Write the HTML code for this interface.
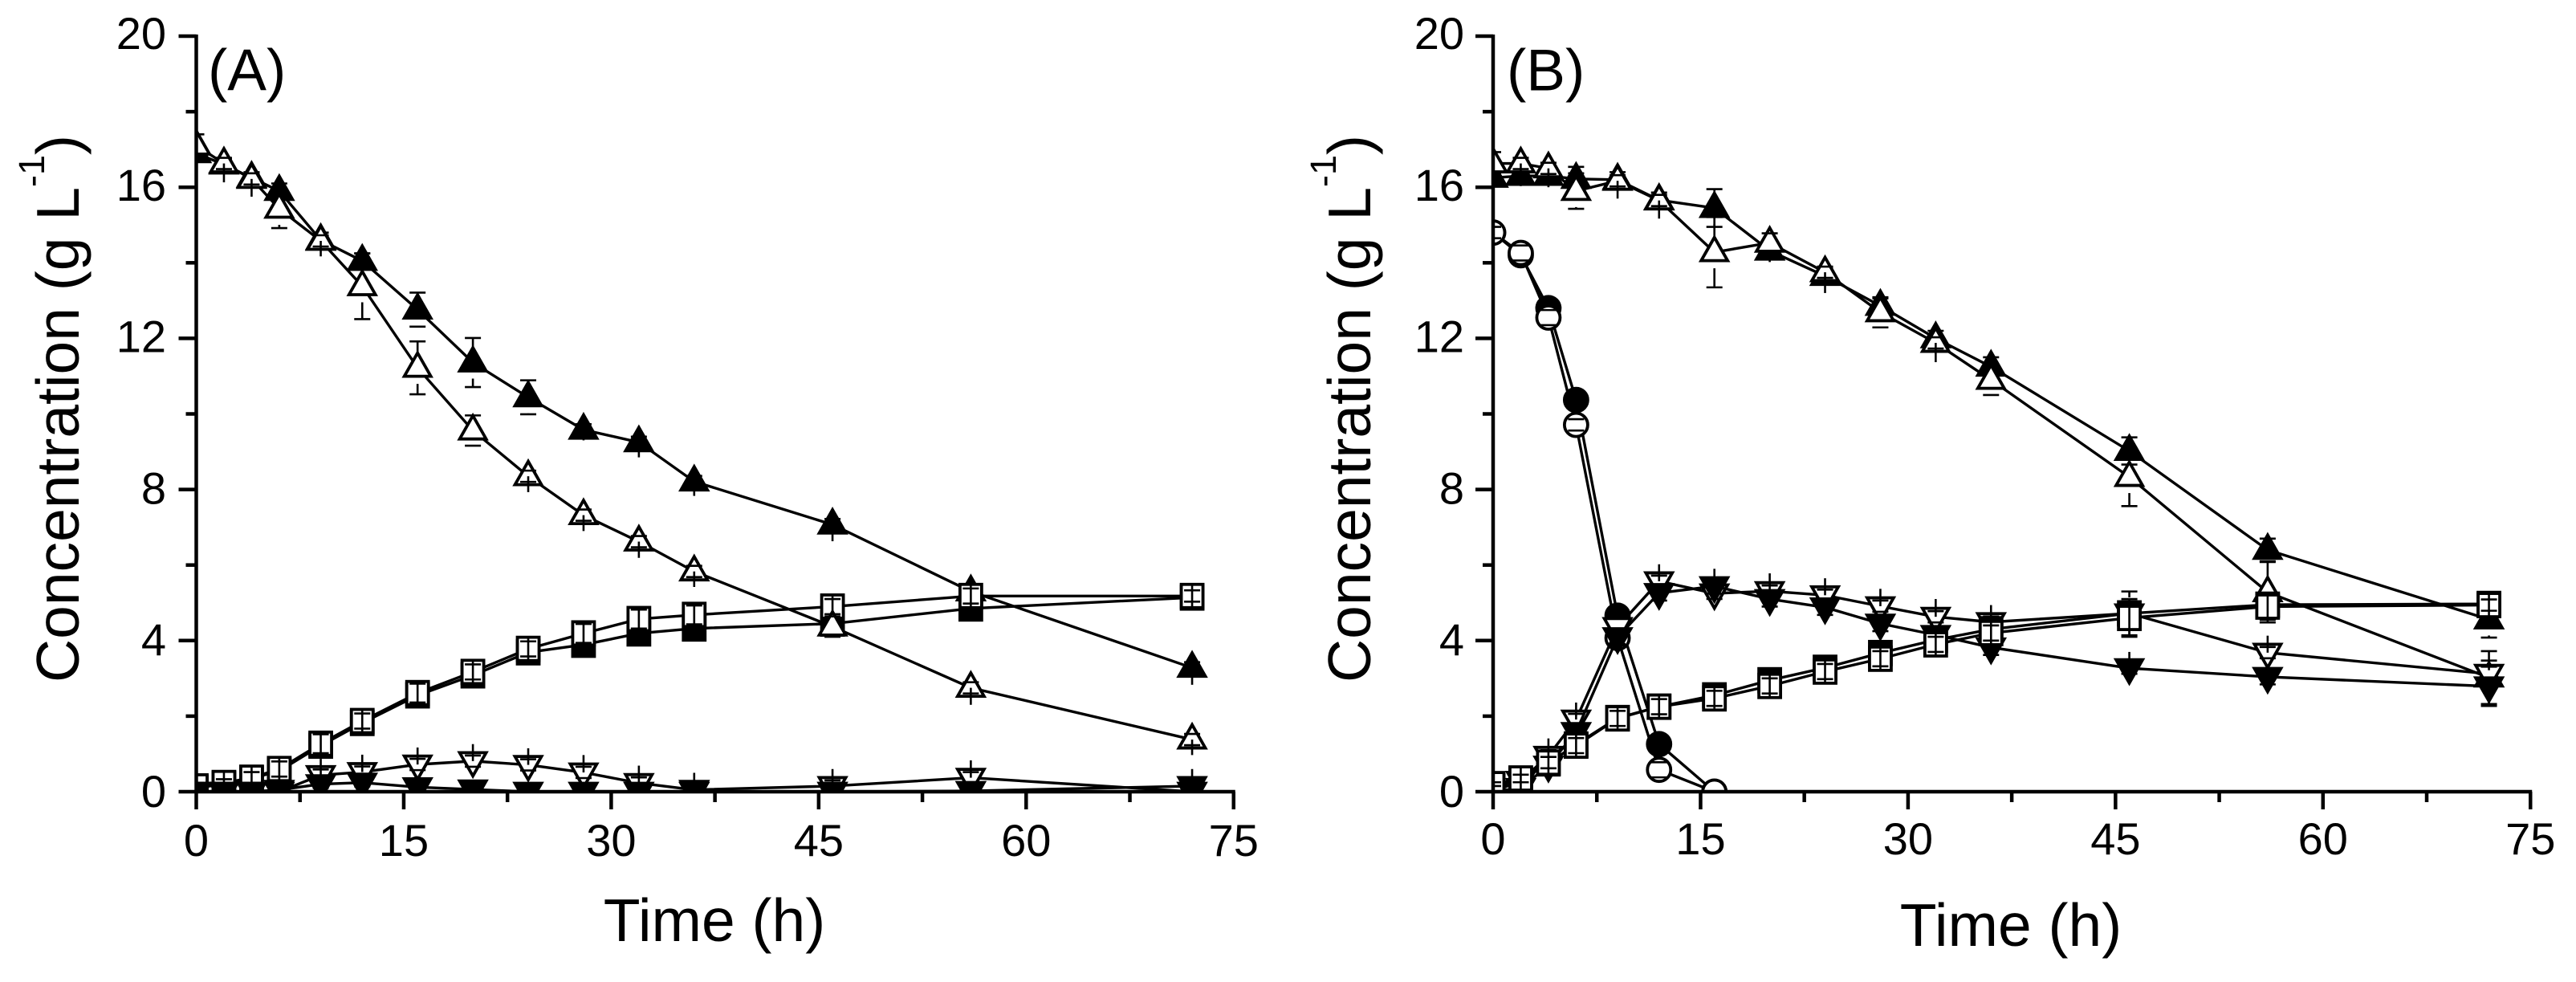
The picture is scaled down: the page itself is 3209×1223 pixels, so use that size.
<!DOCTYPE html>
<html lang="en">
<head>
<meta charset="utf-8">
<title>Concentration over time, panels A and B</title>
<style>
html,body{margin:0;padding:0;background:#fff;}
svg{display:block;font-family:"Liberation Sans",Arial,sans-serif;fill:#000;}
</style>
</head>
<body>
<svg id="chart" xmlns="http://www.w3.org/2000/svg" width="3209" height="1223" viewBox="0 0 3209 1223">
<rect width="3209" height="1223" fill="#fff"/>
<defs>
<clipPath id="clip-a"><rect x="244.5" y="30" width="1310" height="956"/></clipPath>
<clipPath id="clip-b"><rect x="1860" y="30" width="1310" height="956"/></clipPath>
</defs>
<g id="panel-a"></g>
<g id="panel-b"></g>
</svg>
<script>
const times = [0,2,4,6,9,12,16,20,24,28,32,36,46,56,72];
const xTickLabels = [0,15,30,45,60,75];
const xMinorTicks = [7.5,22.5,37.5,52.5,67.5];
const yTickLabels = [0,4,8,12,16,20];
const yMinorTicks = [2,6,10,14,18];

const aUpFilled   = [16.9,16.6,16.25,15.9,14.6,14.05,12.76,11.36,10.44,9.58,9.25,8.21,7.07,5.3,3.28];
const aUpFilledErr= [0.1,0.15,0.15,0.2,0.2,0.2,0.45,0.65,0.45,0.28,0.4,0.38,0.44,0.15,0.45];
const aUpFilledBare=[9,10,11,12,14];
const aUpOpen     = [17.1,16.63,16.22,15.43,14.58,13.38,11.22,9.56,8.35,7.32,6.62,5.83,4.37,2.75,1.38];
const aUpOpenErr  = [0.3,0.5,0.47,0.51,0.41,0.87,0.7,0.4,0.42,0.42,0.43,0.41,0.27,0.45,0.41];
const aUpOpenBare = [1,2,4,8,9,10,11,13,14];
const aSqFilled   = [0.1,0.2,0.35,0.55,1.22,1.82,2.55,3.08,3.69,3.89,4.19,4.32,4.45,4.85,5.14];
const aSqFilledErr= [0.05,0.1,0.1,0.15,0.2,0.15,0.2,0.15,0.15,0.15,0.15,0.15,0.15,0.15,0.1];
const aSqOpen     = [0.14,0.23,0.37,0.6,1.27,1.87,2.61,3.17,3.78,4.19,4.57,4.68,4.9,5.18,5.18];
const aSqOpenErr  = [0.05,0.1,0.15,0.2,0.25,0.2,0.25,0.2,0.2,0.25,0.25,0.25,0.2,0.2,0.15];
const aDownOpen   = [0,0,0,0,0.44,0.52,0.72,0.81,0.71,0.51,0.23,0.05,0.15,0.37,0];
const aDownOpenErr= [0,0,0,0.1,0.43,0.46,0.45,0.45,0.44,0.46,0.46,0.45,0.45,0.46,0.1];
const aDownOpenBare=[4,5,6,7,8,9,10,11,12,13];
const aDownFilled = [0,0,0,0.05,0.2,0.24,0.12,0.06,0,0,0,0,0,0.02,0.15];
const aDownFilledErr=[0,0,0,0,0.1,0.1,0.1,0.05,0,0,0,0,0,0.05,0.45];
const aDownFilledBare=[14];

const bCircFilled = [14.8,14.2,12.8,10.37,4.66,1.26,0];
const bCircFilledErr=[0.1,0.1,0.15,0.1,0.15,0.1,0];
const bCircOpen   = [14.8,14.26,12.55,9.71,4.07,0.58,0];
const bCircOpenErr= [0.15,0.2,0.2,0.15,0.2,0.2,0];
const bUpFilled   = [16.25,16.3,16.3,16.22,16.2,15.66,15.45,14.32,13.65,12.86,12,11.25,9.02,6.4,4.56];
const bUpFilledErr= [0.1,0.15,0.15,0.32,0.2,0.2,0.5,0.3,0.2,0.2,0.2,0.25,0.36,0.3,0.48];
const bUpFilledBare=[7];
const bUpOpen     = [16.63,16.63,16.5,15.9,16.17,15.65,14.28,14.53,13.75,12.69,11.88,10.9,8.33,5.28,3.02];
const bUpOpenErr  = [0.3,0.6,0.5,0.47,0.47,0.48,0.93,0.25,0.55,0.4,0.51,0.4,0.77,0.8,0.7];
const bUpOpenBare = [1,2,4,5,8,10];
const bSqFilled   = [0.15,0.3,0.75,1.25,1.95,2.25,2.55,2.95,3.28,3.67,4.02,4.3,4.72,4.95,4.97];
const bSqFilledErr= [0.05,0.1,0.1,0.15,0.15,0.15,0.15,0.15,0.15,0.15,0.15,0.15,0.15,0.15,0.1];
const bSqOpen     = [0.2,0.35,0.77,1.22,1.94,2.25,2.47,2.8,3.18,3.52,3.9,4.2,4.6,4.9,4.94];
const bSqOpenErr  = [0.05,0.1,0.15,0.2,0.2,0.2,0.2,0.2,0.2,0.2,0.2,0.2,0.5,0.35,0.15];
const bDownOpen   = [0,0.29,0.95,1.91,4.36,5.57,5.25,5.31,5.2,4.91,4.63,4.49,4.72,3.68,3.12];
const bDownOpenErr= [0,0.2,0.46,0.45,0.45,0.45,0.65,0.47,0.45,0.46,0.47,0.45,0.58,0.45,0.35];
const bDownOpenBare=[2,3,5,6,7,8,9,10,11,13];
const bDownFilled = [0,0.1,0.69,1.58,4.09,5.26,5.44,5.1,4.88,4.45,4.15,3.82,3.27,3.04,2.79];
const bDownFilledErr=[0,0.1,0.1,0.2,0.2,0.2,0.2,0.2,0.2,0.2,0.2,0.2,0.43,0.2,0.52];
const bDownFilledBare=[12];

const NS = 'http://www.w3.org/2000/svg';
const Y0 = 986, YPX = 47.05, XPX = 17.23;

function mk(parent, tag, attrs, text) {
  const el = document.createElementNS(NS, tag);
  for (const k in attrs) el.setAttribute(k, attrs[k]);
  if (text !== undefined) el.textContent = text;
  parent.appendChild(el);
  return el;
}
function yScale(v) { return Y0 - v * YPX; }

function marker(g, shape, filled, cx, cy) {
  const fill = filled ? '#000' : '#fff';
  const common = {fill: fill, stroke: '#000', 'stroke-width': 3.8, 'stroke-linejoin': 'miter'};
  let el;
  if (shape === 'up') {
    el = mk(g, 'polygon', Object.assign({points: `${cx},${cy-18.5} ${cx-16.5},${cy+10.5} ${cx+16.5},${cy+10.5}`}, common));
  } else if (shape === 'down') {
    el = mk(g, 'polygon', Object.assign({points: `${cx},${cy+18.5} ${cx-16.5},${cy-10.5} ${cx+16.5},${cy-10.5}`}, common));
  } else if (shape === 'square') {
    el = mk(g, 'rect', Object.assign({x: cx-13.5, y: cy-14.5, width: 27, height: 29}, common));
  } else {
    el = mk(g, 'circle', Object.assign({cx: cx, cy: cy, r: 14.5}, common));
  }
  
  
}

function seg(g, x1, y1, x2, y2, name) {
  const l = mk(g, 'line', {x1: x1, y1: y1, x2: x2, y2: y2, stroke: '#000', 'stroke-width': 2.6});
  
  
}

function errorBar(g, shape, cx, cy, e, bare) {
  const d = e * YPX;
  const CAP = 10, INNER = 7;
  if (bare) {
    const dir = shape === 'up' ? 1 : -1;
    seg(g, cx, cy, cx, cy + dir * d, 'error-bar-stem');
    seg(g, cx - CAP, cy - INNER, cx + CAP, cy - INNER, 'error-bar-cap');
    seg(g, cx - CAP, cy + INNER, cx + CAP, cy + INNER, 'error-bar-cap');
    return;
  }
  if (shape === 'square') seg(g, cx, cy - 14, cx, cy + 14, 'error-bar-stem');
  if (d < 1) return;
  const GAP = shape === 'square' ? 14 : 20;
  [-1, 1].forEach(function (dir) {
    const end = cy + dir * d;
    if (d > GAP) seg(g, cx, cy + dir * GAP, cx, end, 'error-bar-stem');
    seg(g, cx - CAP, end, cx + CAP, end, 'error-bar-cap');
  });
}

function drawSeries(plot, xScale, name, shape, filled, values, errs, bare) {
  const g = mk(plot, 'g', {});
  
  
  const pts = values.map(function (v, i) { return xScale(times[i]) + ',' + yScale(v); }).join(' ');
  const line = mk(g, 'polyline', {points: pts, fill: 'none', stroke: '#000', 'stroke-width': 3.4});
  
  
  values.forEach(function (v, i) {
    marker(g, shape, filled, xScale(times[i]), yScale(v));
  });
  values.forEach(function (v, i) {
    errorBar(g, shape, xScale(times[i]), yScale(v), errs[i], !!bare && bare.indexOf(i) >= 0);
  });
}

function drawAxes(root, x0, xScale, yLabelEnd, xLabelBase, titleX, titleBase, panelLabel, labelX, yTitleBase) {
  const axis = mk(root, 'g', {});
  
  

  const yLine = mk(axis, 'line', {x1: x0, x2: x0, y1: yScale(20) - 2, y2: yScale(0) + 2, stroke: '#000', 'stroke-width': 4.5});
  
  
  const xLine = mk(axis, 'line', {x1: x0 - 2, x2: xScale(75) + 2, y1: Y0, y2: Y0, stroke: '#000', 'stroke-width': 4.5});
  
  

  yTickLabels.forEach(function (v) {
    const t = mk(axis, 'line', {x1: x0 - 22, x2: x0, y1: yScale(v), y2: yScale(v), stroke: '#000', 'stroke-width': 4.5});
    
    
    const off = 16 + (20 - v) * 0.15;
    const l = mk(axis, 'text', {x: yLabelEnd, y: yScale(v) + off, 'text-anchor': 'end', 'font-size': 56}, String(v));
    
    
  });
  yMinorTicks.forEach(function (v) {
    const t = mk(axis, 'line', {x1: x0 - 13, x2: x0, y1: yScale(v), y2: yScale(v), stroke: '#000', 'stroke-width': 4.5});
    
    
  });
  xTickLabels.forEach(function (v) {
    const t = mk(axis, 'line', {x1: xScale(v), x2: xScale(v), y1: Y0, y2: Y0 + 22, stroke: '#000', 'stroke-width': 4.5});
    
    
    const l = mk(axis, 'text', {x: xScale(v), y: xLabelBase, 'text-anchor': 'middle', 'font-size': 56}, String(v));
    
    
  });
  xMinorTicks.forEach(function (v) {
    const t = mk(axis, 'line', {x1: xScale(v), x2: xScale(v), y1: Y0, y2: Y0 + 13, stroke: '#000', 'stroke-width': 4.5});
    
    
  });

  const xTitle = mk(root, 'text', {x: titleX, y: titleBase, 'text-anchor': 'middle', 'font-size': 75}, 'Time (h)');
  
  

  const yTitle = mk(root, 'text', {transform: `translate(${yTitleBase},850) rotate(-90)`, 'font-size': 75});
  
  
  mk(yTitle, 'tspan', {}, 'Concentration (g L');
  mk(yTitle, 'tspan', {'font-size': 45, dy: -43}, '-1');
  mk(yTitle, 'tspan', {dy: 43}, ')');

  const lab = mk(root, 'text', {x: labelX, y: 112.7, 'font-size': 73}, panelLabel);
  
  
}

function buildPanelA() {
  const root = document.getElementById('panel-a');
  const x0 = 244.5;
  const xScale = function (t) { return x0 + t * XPX; };
  const plot = mk(root, 'g', {'clip-path': 'url(#clip-a)'});
  
  
  drawSeries(plot, xScale, 'a-up-filled', 'up', true, aUpFilled, aUpFilledErr, aUpFilledBare);
  drawSeries(plot, xScale, 'a-square-filled', 'square', true, aSqFilled, aSqFilledErr);
  drawSeries(plot, xScale, 'a-square-open', 'square', false, aSqOpen, aSqOpenErr);
  drawSeries(plot, xScale, 'a-up-open', 'up', false, aUpOpen, aUpOpenErr, aUpOpenBare);
  drawSeries(plot, xScale, 'a-down-open', 'down', false, aDownOpen, aDownOpenErr, aDownOpenBare);
  drawSeries(plot, xScale, 'a-down-filled', 'down', true, aDownFilled, aDownFilledErr, aDownFilledBare);
  drawAxes(root, x0, xScale, 207, 1066, 890, 1172, '(A)', 259, 98);
}

function buildPanelB() {
  const root = document.getElementById('panel-b');
  const x0 = 1860;
  const xScale = function (t) { return x0 + t * XPX; };
  const plot = mk(root, 'g', {'clip-path': 'url(#clip-b)'});
  
  
  drawSeries(plot, xScale, 'b-circle-filled', 'circle', true, bCircFilled, bCircFilledErr);
  drawSeries(plot, xScale, 'b-circle-open', 'circle', false, bCircOpen, bCircOpenErr);
  drawSeries(plot, xScale, 'b-up-filled', 'up', true, bUpFilled, bUpFilledErr, bUpFilledBare);
  drawSeries(plot, xScale, 'b-up-open', 'up', false, bUpOpen, bUpOpenErr, bUpOpenBare);
  drawSeries(plot, xScale, 'b-down-open', 'down', false, bDownOpen, bDownOpenErr, bDownOpenBare);
  drawSeries(plot, xScale, 'b-down-filled', 'down', true, bDownFilled, bDownFilledErr, bDownFilledBare);
  drawSeries(plot, xScale, 'b-square-filled', 'square', true, bSqFilled, bSqFilledErr);
  drawSeries(plot, xScale, 'b-square-open', 'square', false, bSqOpen, bSqOpenErr);
  drawAxes(root, x0, xScale, 1824, 1064, 2505, 1178, '(B)', 1877, 1707);
}

buildPanelA();
buildPanelB();
</script>
</body>
</html>
